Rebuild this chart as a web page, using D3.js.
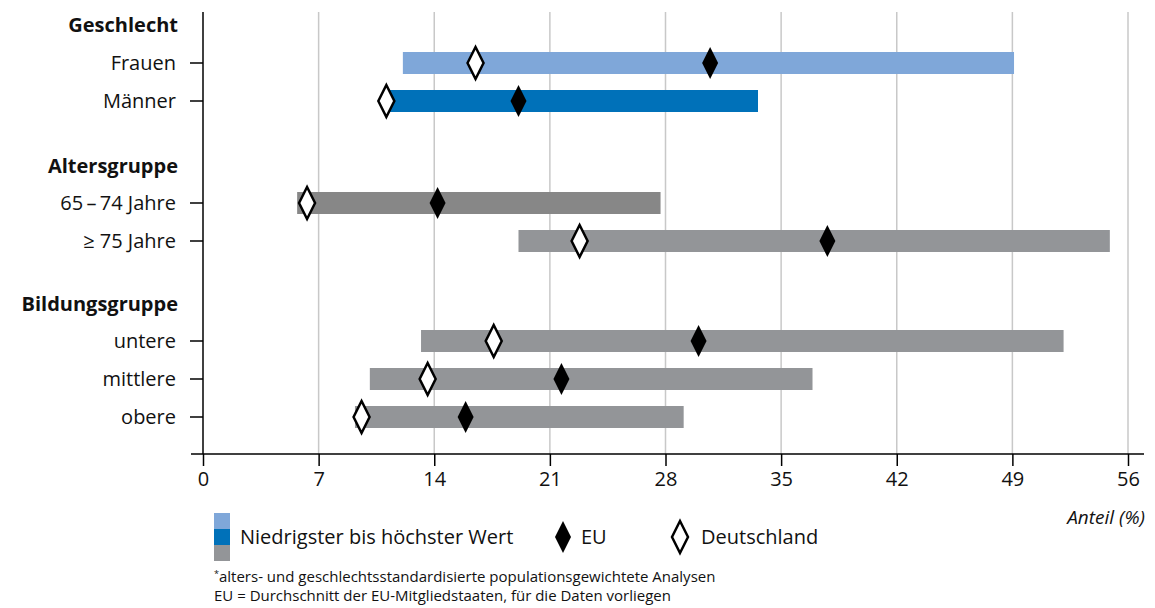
<!DOCTYPE html>
<html>
<head>
<meta charset="utf-8">
<script src="https://cdn.jsdelivr.net/npm/d3@7"></script>
<style>
  body { margin: 0; background: #fff; }
  text { font-family: "Open Sans", "Noto Sans", sans-serif; fill: #111; }
</style>
</head>
<body>
<div id="canvas"></div>
<script>
// data
var groups = ['Geschlecht', 'Altersgruppe', 'Bildungsgruppe'];
var categories = ['Frauen', 'Männer', '65\u2009–\u200974 Jahre', '≥ 75 Jahre', 'untere', 'mittlere', 'obere'];
var categoryGroup = [0, 0, 1, 1, 2, 2, 2];
var minValues = [12.1, 11.0, 5.7, 19.1, 13.2, 10.1, 9.2];
var maxValues = [49.1, 33.6, 27.7, 54.9, 52.1, 36.9, 29.1];
var euValues = [30.7, 19.1, 14.2, 37.8, 30.0, 21.7, 15.9];
var deValues = [16.5, 11.1, 6.3, 22.8, 17.6, 13.6, 9.6];
var barColors = ['#7fa7d9', '#0071b9', '#878787', '#939598', '#939598', '#939598', '#939598'];
var xTicks = [0, 7, 14, 21, 28, 35, 42, 49, 56];

svg = d3.select('#canvas').append('svg')
  .attr('width', 1155)
  .attr('height', 608);

var x = d3.scaleLinear().domain([0, 56]).range([203, 1128]);

// rows: header rows plus category rows
var rows = [];
groups.forEach(function(g, gi) {
  rows.push({label: g, header: true});
  categories.forEach(function(c, i) {
    if (categoryGroup[i] == gi) rows.push({label: c, header: false, i: i});
  });
});
var rowPos = [25, 63, 101, 166, 203, 241, 304, 341, 379, 417];
var y = d3.scaleOrdinal().domain(d3.range(rows.length)).range(rowPos);

// grid lines
svg.append('g').selectAll('line')
  .data(xTicks.slice(1))
  .join('line')
  .attr('x1', d => x(d)).attr('x2', d => x(d))
  .attr('y1', 12).attr('y2', 454)
  .attr('stroke', '#c8c8c8')
  .attr('stroke-width', 1.5);

// x axis
var xAxis = svg.append('g')
  .attr('transform', 'translate(0,454)')
  .call(d3.axisBottom(x).tickValues(xTicks).tickSize(12).tickSizeOuter(0).tickPadding(6));
xAxis.select('.domain').remove();
xAxis.append('line').attr('x1', 191).attr('x2', 1144).attr('stroke', '#000').attr('stroke-width', 1.5);
xAxis.selectAll('.tick line').attr('stroke-width', 1.5);
xAxis.selectAll('.tick text').style('font-size', '20px').attr('fill', '#111');

svg.append('text')
  .attr('x', 1145).attr('y', 517)
  .attr('dy', '0.35em')
  .attr('text-anchor', 'end')
  .style('font-size', '19px')
  .style('font-style', 'italic')
  .text('Anteil (%)');

// y axis line
svg.append('line')
  .attr('x1', 203).attr('x2', 203)
  .attr('y1', 12).attr('y2', 454)
  .attr('stroke', '#000').attr('stroke-width', 1.5);

// row labels and ticks
rows.forEach(function(r, ri) {
  svg.append('text')
    .attr('x', r.header ? 178 : 176)
    .attr('y', y(ri))
    .attr('dy', '0.35em')
    .attr('text-anchor', 'end')
    .style('font-size', '20px')
    .style('font-weight', r.header ? 'bold' : 'normal')
    .text(r.label);
  if (!r.header) {
    svg.append('line')
      .attr('x1', 190).attr('x2', 203)
      .attr('y1', y(ri)).attr('y2', y(ri))
      .attr('stroke', '#000').attr('stroke-width', 1.5);
  }
});

var dataRows = rows.map((r, ri) => ({r: r, ri: ri})).filter(d => !d.r.header);

// bars
svg.append('g').selectAll('rect')
  .data(dataRows)
  .join('rect')
  .attr('x', d => x(minValues[d.r.i]))
  .attr('width', d => x(maxValues[d.r.i]) - x(minValues[d.r.i]))
  .attr('y', d => y(d.ri) - 11)
  .attr('height', 22)
  .attr('fill', d => barColors[d.r.i]);

function diamond(cx, cy) {
  return 'M' + cx + ' ' + (cy - 16) + ' L' + (cx + 8) + ' ' + cy + ' L' + cx + ' ' + (cy + 16) + ' L' + (cx - 8) + ' ' + cy + ' Z';
}

// EU markers
svg.append('g').selectAll('path')
  .data(dataRows)
  .join('path')
  .attr('d', d => diamond(x(euValues[d.r.i]), y(d.ri)))
  .attr('fill', '#000');

// Germany markers
svg.append('g').selectAll('path')
  .data(dataRows)
  .join('path')
  .attr('d', d => diamond(x(deValues[d.r.i]), y(d.ri)))
  .attr('fill', '#fff')
  .attr('stroke', '#000')
  .attr('stroke-width', 2.5);

// legend
var legendColors = ['#7fa7d9', '#0071b9', '#939598'];
legendColors.forEach(function(c, i) {
  svg.append('rect')
    .attr('x', 214).attr('y', 513 + i * 16)
    .attr('width', 16).attr('height', 16)
    .attr('fill', c);
});
svg.append('text').attr('x', 240).attr('y', 537).attr('dy', '0.35em')
  .style('font-size', '20px').text('Niedrigster bis höchster Wert');
svg.append('path').attr('d', diamond(563, 537)).attr('fill', '#000');
svg.append('text').attr('x', 581).attr('y', 537).attr('dy', '0.35em')
  .style('font-size', '20px').text('EU');
svg.append('path').attr('d', diamond(680, 537))
  .attr('fill', '#fff').attr('stroke', '#000').attr('stroke-width', 2.5);
svg.append('text').attr('x', 701).attr('y', 537).attr('dy', '0.35em')
  .style('font-size', '20px').text('Deutschland');

// footnotes
var fn = svg.append('text').attr('x', 214).attr('y', 582).style('font-size', '15px');
fn.append('tspan').attr('dy', '-5').style('font-size', '9px').text('*');
fn.append('tspan').attr('dy', '5').text('alters- und geschlechtsstandardisierte populationsgewichtete Analysen');
svg.append('text').attr('x', 214).attr('y', 601).style('font-size', '15px')
  .text('EU = Durchschnitt der EU-Mitgliedstaaten, für die Daten vorliegen');
</script>
</body>
</html>
